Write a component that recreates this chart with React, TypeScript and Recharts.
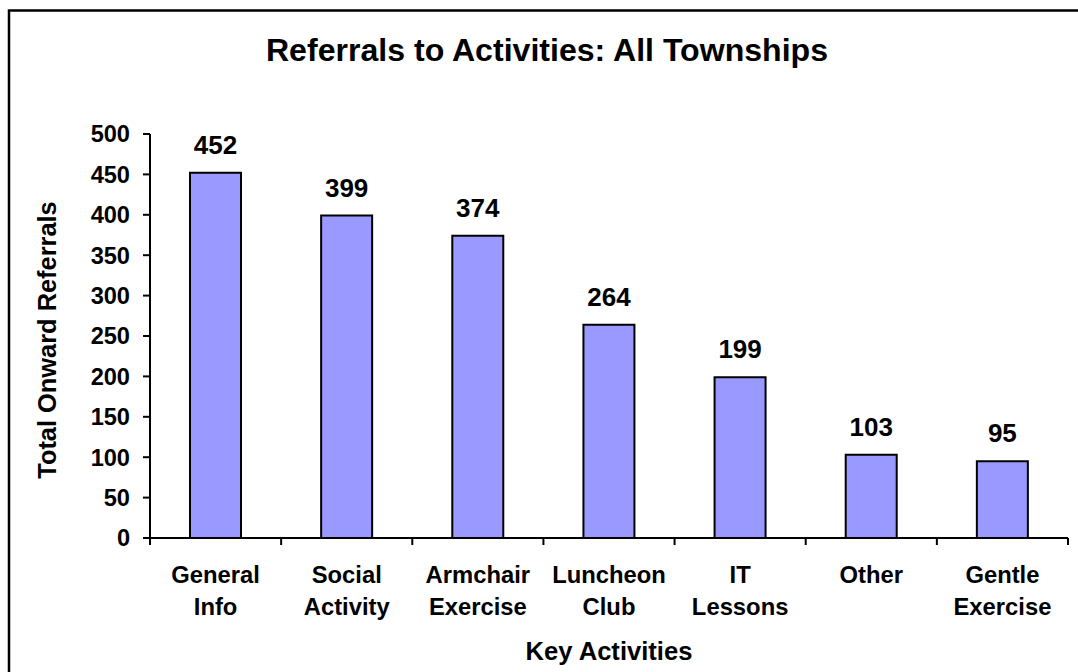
import React from 'react';
import { BarChart, Bar, XAxis, YAxis, LabelList } from 'recharts';

const categories = ['General Info', 'Social Activity', 'Armchair Exercise', 'Luncheon Club', 'IT Lessons', 'Other', 'Gentle Exercise'];
const referrals = [452, 399, 374, 264, 199, 103, 95];
const yTicks = [0, 50, 100, 150, 200, 250, 300, 350, 400, 450, 500];

const chartTitle = 'Referrals to Activities: All Townships';
const xTitle = 'Key Activities';
const yTitle = 'Total Onward Referrals';

const data = categories.map((name, i) => ({ name, value: referrals[i] }));

const FONT = "Arial, 'Liberation Sans', sans-serif";

const CategoryTick = (props: any) => {
  const { x, y, payload, index } = props;
  const half = payload && payload.offset != null ? payload.offset : 0;
  const words = String(payload.value).split(' ');
  const isLast = index === categories.length - 1;
  return (
    <g>
      <line x1={x - half} x2={x - half} y1={y} y2={y + 7} stroke="#000" strokeWidth={2} />
      {isLast && <line x1={x + half} x2={x + half} y1={y} y2={y + 7} stroke="#000" strokeWidth={2} />}
      {words.map((w, i) => (
        <text
          key={i}
          x={x}
          y={y + 45 + i * 32}
          textAnchor="middle"
          fontFamily={FONT}
          fontWeight="bold"
          fontSize={23.8}
          fill="#000"
        >
          {w}
        </text>
      ))}
    </g>
  );
};

export default function App() {
  return (
    <div style={{ position: 'absolute', left: 0, top: 0, width: 1078, height: 672, background: '#fff', overflow: 'hidden' }}>
      <BarChart
        width={1078}
        height={672}
        data={data}
        margin={{ top: 134, right: 10, bottom: 34, left: 50 }}
      >
        <XAxis
          dataKey="name"
          interval={0}
          height={100}
          tickLine={false}
          tickSize={0}
          tickMargin={0}
          axisLine={{ stroke: '#000', strokeWidth: 2 }}
          tick={<CategoryTick />}
        />
        <YAxis
          width={100}
          domain={[0, 500]}
          ticks={yTicks}
          interval={0}
          tickSize={7}
          tickMargin={13}
          axisLine={{ stroke: '#000', strokeWidth: 2 }}
          tickLine={{ stroke: '#000', strokeWidth: 2 }}
          tick={{ fill: '#000', fontFamily: FONT, fontWeight: 'bold', fontSize: 23.6 }}
        />
        <Bar dataKey="value" fill="#9999FF" stroke="#000" strokeWidth={2} barSize={51} isAnimationActive={false}>
          <LabelList
            dataKey="value"
            position="top"
            offset={19}
            fill="#000"
            fontFamily={FONT}
            fontWeight="bold"
            fontSize={26}
          />
        </Bar>
      </BarChart>
      <svg
        width={1078}
        height={672}
        style={{ position: 'absolute', left: 0, top: 0, pointerEvents: 'none' }}
      >
        <rect x={9} y={10.5} width={1200} height={1000} fill="none" stroke="#000" strokeWidth={2.5} />
        <text x={547} y={60.7} textAnchor="middle" fontFamily={FONT} fontWeight="bold" fontSize={32.1} fill="#000">
          {chartTitle}
        </text>
        <text x={609} y={660} textAnchor="middle" fontFamily={FONT} fontWeight="bold" fontSize={25.6} fill="#000">
          {xTitle}
        </text>
        <text
          x={55.7}
          y={340}
          transform="rotate(-90 55.7 340)"
          textAnchor="middle"
          fontFamily={FONT}
          fontWeight="bold"
          fontSize={25.4}
          fill="#000"
        >
          {yTitle}
        </text>
      </svg>
    </div>
  );
}
